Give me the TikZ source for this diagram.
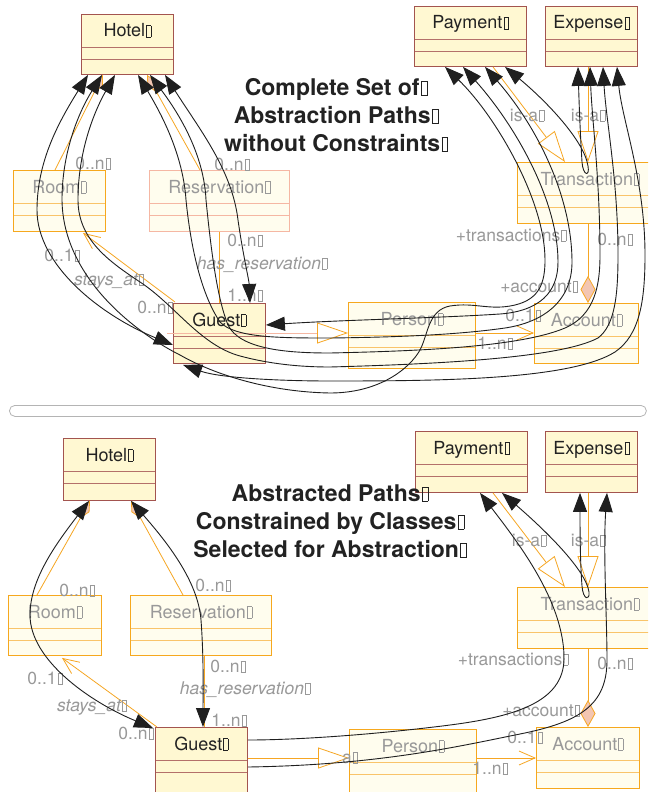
\documentclass[tikz,border=0pt]{standalone}
\usepackage{fontspec}
\setmainfont{TeX Gyre Heros}
\usetikzlibrary{arrows.meta,calc}

\definecolor{strongfill}{HTML}{FFF8D2}
\definecolor{strongedge}{HTML}{A3544F}
\definecolor{strongsep}{HTML}{B4706A}
\definecolor{fadefill}{HTML}{FFFDEE}
\definecolor{fadeedge}{HTML}{F6A81E}
\definecolor{fadesep}{HTML}{F9C46A}
\definecolor{salmonedge}{HTML}{F5B7A3}
\definecolor{assoc}{HTML}{F6A623}
\definecolor{diamondfill}{HTML}{F3C6B2}
\definecolor{labelgray}{HTML}{999999}
\definecolor{namedark}{HTML}{222222}
\definecolor{barline}{HTML}{B4B4B4}

% the small empty box that follows every text
\newcommand\gl{\kern0.06em{\fboxsep=0pt\fboxrule=0.35pt\fbox{\rule{0pt}{0.62em}\hspace{0.24em}}}}

% class box: name, box style, left, top, width, height, name style, text
\newcommand\umlclass[8]{%
  \node[#2, minimum width=#5pt, minimum height=#6pt, anchor=north west] (#1) at (#3,#4) {};
  \node[#7, anchor=base] (#1-name) at ([yshift=-23pt]#1.north) {#8};}

\tikzset{
  boxbase/.style n args={3}{draw=#1, fill=#2, line width=0.9pt, inner sep=0pt,
    path picture={\foreach \d in {33,45}
      \draw[#3, line width=0.8pt] ([yshift=-\d pt]path picture bounding box.north west) -- ([yshift=-\d pt]path picture bounding box.north east);}},
  strongbox/.style={boxbase={strongedge}{strongfill}{strongsep}},
  fadebox/.style={boxbase={fadeedge}{fadefill}{fadesep}},
  salmonbox/.style={boxbase={salmonedge}{fadefill}{salmonedge}},
  strongname/.style={font=\fontsize{18}{18}\selectfont, text=namedark, inner sep=0pt},
  fadename/.style={font=\fontsize{18}{18}\selectfont, text=labelgray, inner sep=0pt},
  lab/.style={font=\fontsize{17.5}{17.5}\selectfont, text=labelgray, inner sep=0pt, anchor=base},
  labit/.style={lab, font=\fontsize{17.5}{17.5}\selectfont\itshape},
  titletext/.style={font=\fontsize{23}{28}\selectfont\bfseries, text=namedark, align=center, inner sep=0pt},
  assocline/.style={draw=assoc, line width=0.8pt},
  isa/.style={assocline, -{Triangle[open, length=31pt, width=21pt, fill=white, color=assoc]}},
  navig/.style={assocline, -{Straight Barb[length=16pt, width=14pt]}},
  compos/.style={assocline, -{Diamond[length=27pt, width=15pt, fill=diamondfill]}},
  aggr/.style={assocline, -{Diamond[length=20pt, width=10pt, fill=diamondfill]}},
  abspath/.style={draw=black!88, line width=0.9pt},
  twoway/.style={abspath, {Triangle[length=19pt,width=14pt]}-{Triangle[length=19pt,width=14pt]}},
  backway/.style={abspath, {Triangle[length=19pt,width=14pt]}-},
}

\begin{document}
\begin{tikzpicture}[x=1pt, y=-1pt]
\clip (0,0) rectangle (648,792);
\fill[white] (0,0) rectangle (648,792);

% ---------- upper diagram: classes ----------
\umlclass{hotelT}{strongbox}{81}{14}{92}{60}{strongname}{Hotel\gl}
\umlclass{payT}{strongbox}{414}{6}{112}{60}{strongname}{Payment\gl}
\umlclass{expT}{strongbox}{545}{6}{92}{60}{strongname}{Expense\gl}
\umlclass{roomT}{fadebox}{13}{170}{92}{61}{fadename}{Room\gl}
\umlclass{resT}{salmonbox}{149}{170}{140}{61}{fadename}{Reservation\gl}
\umlclass{transT}{fadebox}{517}{162}{145}{61}{fadename}{Transaction\gl}
\umlclass{guestT}{strongbox}{173}{303}{92}{60}{strongname}{Guest\gl}
\umlclass{personT}{fadebox}{348}{302}{127}{66}{fadename}{Person\gl}
\umlclass{acctT}{fadebox}{534}{303}{104}{60}{fadename}{Account\gl}

\node[titletext] (titleT) at (336,115) {Complete Set of\gl\\Abstraction Paths\gl\\without Constraints\gl};

% ---------- upper diagram: associations ----------
\draw[aggr] ($(roomT.north west)+(42,0)$) -- ($(hotelT.south west)+(22,0)$);
\draw[aggr] ($(resT.north west)+(51,0)$) -- ($(hotelT.south west)+(66,0)$);
\draw[navig] ($(guestT.north west)+(2,-1)$) -- ($(roomT.south west)+(70,1)$);
\draw[assocline] ($(resT.south west)+(70,0)$) -- ($(guestT.north west)+(46,0)$);
\draw[isa, draw=salmonedge] ($(guestT.north west)+(-6,30)$) -- ($(personT.north west)+(0,31)$);
\draw[navig] ($(personT.north east)+(0,31)$) -- ($(acctT.north west)+(0,30)$);
\draw[compos] ($(transT.south west)+(71,0)$) -- ($(acctT.north west)+(54,0)$);
\draw[isa] ($(payT.south west)+(79,0)$) -- ($(transT.north west)+(48,0)$);
\draw[isa] ($(expT.south west)+(43,0)$) -- ($(transT.north west)+(71,0)$);

% ---------- upper diagram: role and multiplicity labels ----------
\node[lab] (tl1) at (93,169) {0..n\gl};
\node[lab] (tl2) at (232,170) {0..n\gl};
\node[lab] (tl3) at (62,261) {0..1\gl};
\node[labit] (tl4) at (109,285) {stays\_at\gl};
\node[lab] (tl5) at (155,313) {0..n\gl};
\node[lab] (tl6) at (245,246) {0..n\gl};
\node[labit] (tl7) at (262,269) {has\_reservation\gl};
\node[lab] (tl8) at (245,301) {1..n\gl};
\node[lab] (tl9) at (511,241) {+transactions\gl};
\node[lab] (tl10) at (615,245) {0..n\gl};
\node[lab] (tl11) at (539,292) {+account\gl};
\node[lab] (tl12) at (523,321) {0..1\gl};
\node[lab] (tl13) at (495,349) {1..n\gl};
\node[lab] (tl14) at (527,121) {is-a\gl};
\node[lab] (tl15) at (588,121) {is-a\gl};

% ---------- upper diagram: abstraction paths ----------
% Hotel <-> Guest, through Room and through Reservation
\draw[twoway] ($(hotelT.south west)+(7,0)$) .. controls (60,120) and (37,160) .. (37,210)
  .. controls (37,265) and (100,315) .. ($(guestT.north west)+(0,42)$);
\draw[twoway] ($(hotelT.south west)+(84,0)$) .. controls (200,130) and (232,170) .. (238,220)
  .. controls (243,255) and (249,280) .. ($(guestT.north west)+(77,0)$);
% Hotel <-> Payment, through Room
\draw[twoway] ($(hotelT.south west)+(21,0)$) .. controls (80,110) and (62,150) .. (62,200)
  .. controls (63,280) and (140,335) .. (180,355) .. controls (215,375) and (270,392) .. (330,393)
  .. controls (380,393) and (410,368) .. (420,350) .. controls (428,335) and (428,310) .. (450,306)
  .. controls (475,302) and (490,311) .. (515,305) .. controls (540,299) and (545,282) .. (545,260)
  .. controls (545,200) and (495,115) .. ($(payT.south west)+(31,0)$);
% Hotel <-> Payment, through Reservation
\draw[twoway] ($(hotelT.south west)+(57,0)$) .. controls (162,115) and (183,155) .. (186,200)
  .. controls (192,260) and (205,300) .. (220,322) .. controls (235,338) and (280,338) .. (330,338)
  .. controls (420,337) and (470,333) .. (505,328) .. controls (545,322) and (572,300) .. (572,262)
  .. controls (572,200) and (540,130) .. ($(payT.south west)+(71,0)$);
% Guest <-> Payment
\draw[twoway] ($(guestT.north east)+(0,22)$) .. controls (340,320) and (440,318) .. (500,314)
  .. controls (540,311) and (558,292) .. (558,262)
  .. controls (558,200) and (515,125) .. ($(payT.south west)+(49,0)$);
% Hotel <-> Expense, through Reservation
\draw[twoway] ($(hotelT.south west)+(69,0)$) .. controls (180,115) and (204,155) .. (206,200)
  .. controls (212,260) and (218,300) .. (228,325) .. controls (240,350) and (290,353) .. (330,353)
  .. controls (420,351) and (520,347) .. (565,328) .. controls (595,315) and (600,285) .. (600,255)
  .. controls (600,180) and (592,120) .. ($(expT.south west)+(45,0)$);
% Hotel <-> Expense, through Room
\draw[twoway] ($(hotelT.south west)+(34,0)$) .. controls (95,110) and (78,150) .. (78,200)
  .. controls (78,240) and (110,262) .. (140,282) .. controls (175,305) and (200,345) .. (240,356)
  .. controls (270,364) and (300,367) .. (330,367)
  .. controls (440,364) and (560,358) .. (598,338) .. controls (615,325) and (618,295) .. (618,255)
  .. controls (618,180) and (606,120) .. ($(expT.south west)+(58,0)$);
% Guest <-> Expense
\draw[twoway] ($(guestT.south west)+(10,1)$) .. controls (220,378) and (280,381) .. (330,381)
  .. controls (440,381) and (570,380) .. (615,352) .. controls (640,335) and (645,300) .. (645,255)
  .. controls (645,180) and (622,120) .. ($(expT.south west)+(72,0)$);
% Payment <-> Expense, through Transaction
\draw[twoway] ($(payT.south west)+(91,0)$) .. controls (545,100) and (584,140) .. (588,166)
  .. controls (590,177) and (583,176) .. (582,162)
  .. controls (580,130) and (579,100) .. ($(expT.south west)+(33,0)$);

% ---------- divider ----------
\node[draw=barline, line width=0.8pt, rounded corners=5.5pt, minimum width=637pt, minimum height=11pt,
  anchor=north west, inner sep=0pt] (divider) at (9,405) {};

% ---------- lower diagram: classes ----------
\umlclass{hotelB}{strongbox}{63}{438}{92}{62}{strongname}{Hotel\gl}
\umlclass{payB}{strongbox}{415}{431}{112}{61}{strongname}{Payment\gl}
\umlclass{expB}{strongbox}{545}{431}{92}{61}{strongname}{Expense\gl}
\umlclass{roomB}{fadebox}{8}{595}{93}{60}{fadename}{Room\gl}
\umlclass{resB}{fadebox}{130}{595}{141}{60}{fadename}{Reservation\gl}
\umlclass{transB}{fadebox}{517}{587}{145}{61}{fadename}{Transaction\gl}
\umlclass{guestB}{strongbox}{155}{727}{92}{70}{strongname}{Guest\gl}
\umlclass{personB}{fadebox}{349}{729}{127}{63}{fadename}{Person\gl}
\umlclass{acctB}{fadebox}{536}{727}{103}{61}{fadename}{Account\gl}

\node[titletext] (titleB) at (330,521) {Abstracted Paths\gl\\Constrained by Classes\gl\\Selected for Abstraction\gl};

% ---------- lower diagram: associations ----------
\draw[aggr] ($(roomB.north west)+(29,0)$) -- ($(hotelB.south west)+(27,0)$);
\draw[aggr] ($(resB.north west)+(53,0)$) -- ($(hotelB.south west)+(68,0)$);
\draw[navig] ($(guestB.north west)+(2,0)$) -- ($(roomB.south west)+(54,2)$);
\draw[assocline] ($(resB.south west)+(74,0)$) -- ($(guestB.north west)+(49,0)$);
\draw[isa] ($(guestB.north east)+(0,31)$) -- ($(personB.north west)+(0,29)$);
\draw[navig] ($(personB.north east)+(0,29)$) -- ($(acctB.north west)+(0,31)$);
\draw[compos] ($(transB.south west)+(71,0)$) -- ($(acctB.north west)+(52,0)$);
\draw[isa] ($(payB.south west)+(78,0)$) -- ($(transB.north west)+(48,0)$);
\draw[isa] ($(expB.south west)+(43,0)$) -- ($(transB.north west)+(71,0)$);

% ---------- lower diagram: labels ----------
\node[lab] (bl1) at (77,596) {0..n\gl};
\node[lab] (bl2) at (213,591) {0..n\gl};
\node[lab] (bl3) at (45,684) {0..1\gl};
\node[labit] (bl4) at (92,711) {stays\_at\gl};
\node[lab] (bl5) at (136,739) {0..n\gl};
\node[lab] (bl6) at (228,672) {0..n\gl};
\node[labit] (bl7) at (245,694) {has\_reservation\gl};
\node[lab] (bl8) at (229,726) {1..n\gl};
\node[lab] (bl9) at (513,665) {+transactions\gl};
\node[lab] (bl10) at (615,669) {0..n\gl};
\node[lab] (bl11) at (541,716) {+account\gl};
\node[lab] (bl12) at (525,743) {0..1\gl};
\node[lab] (bl13) at (490,774) {1..n\gl};
\node[lab] (bl14) at (529,546) {is-a\gl};
\node[lab] (bl15) at (588,546) {is-a\gl};
\node[lab] (bl16) at (350,763) {a\gl};

% ---------- lower diagram: abstraction paths ----------
\draw[twoway] ($(hotelB.south west)+(26,0)$) .. controls (55,545) and (30,580) .. (30,615)
  .. controls (30,660) and (90,702) .. ($(guestB.north west)+(-2,1)$);
\draw[twoway] ($(hotelB.south west)+(68,0)$) .. controls (165,540) and (198,580) .. (201,620)
  .. controls (204,660) and (203,700) .. ($(guestB.north west)+(48,0)$);
\draw[backway] ($(payB.south west)+(65,0)$) .. controls (520,545) and (562,600) .. (564,655)
  .. controls (566,700) and (520,716) .. (450,725)
  .. controls (380,734) and (300,740) .. ($(guestB.north east)+(0,13)$);
\draw[backway] ($(expB.south west)+(62,0)$) .. controls (603,550) and (607,620) .. (607,660)
  .. controls (607,705) and (580,722) .. (520,734)
  .. controls (460,746) and (380,765) .. ($(guestB.north east)+(0,40)$);
\draw[twoway] ($(payB.south west)+(87,0)$) .. controls (545,530) and (586,570) .. (589,592)
  .. controls (590,601) and (583,600) .. (582,586)
  .. controls (580,560) and (580,525) .. ($(expB.south west)+(35,0)$);
\end{tikzpicture}
\end{document}
